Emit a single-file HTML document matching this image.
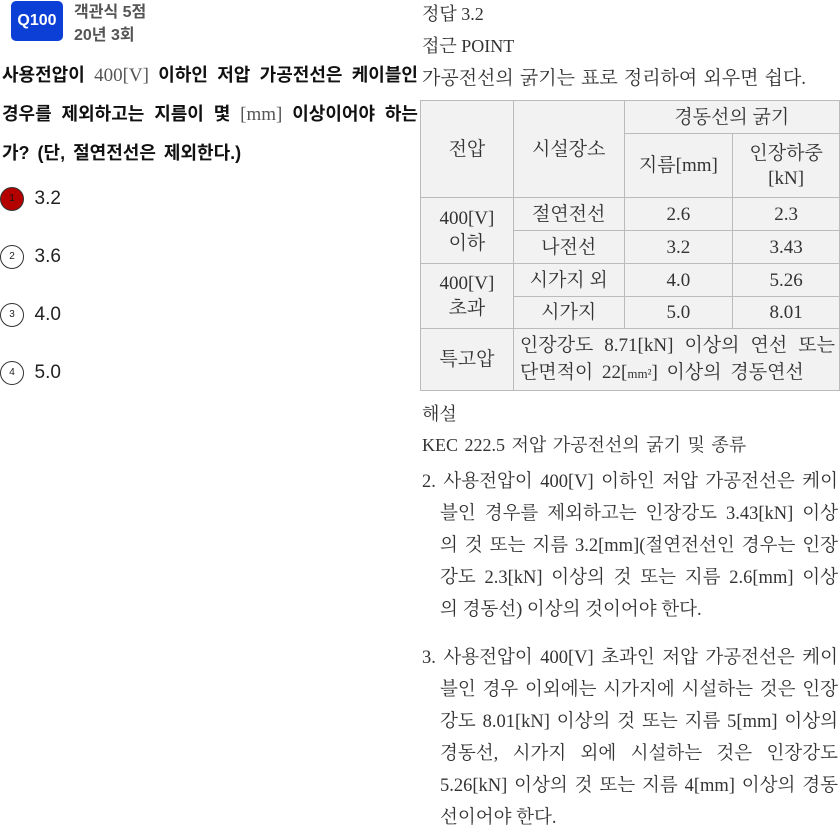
<!DOCTYPE html>
<html><head><meta charset="utf-8"><style>
body{margin:0;width:840px;height:835px;background:#fff;position:relative;overflow:hidden;font-family:"Liberation Sans","Noto Sans CJK KR",sans-serif;color:#222}
.a{position:absolute;white-space:nowrap}
.j{text-align:justify;text-align-last:justify;white-space:normal}
.ser{font-family:"Liberation Serif","Noto Serif CJK SC","Noto Sans CJK KR",serif;color:#333}
.q{font-weight:bold;font-size:18px;color:#111;width:416px}
.m{font-family:"Liberation Serif",serif;font-weight:normal;color:#555;font-size:19px}
.c{display:inline-block;width:24px;height:24px;border:1.5px solid #333;border-radius:50%;box-sizing:border-box;font-size:10px;text-align:center;line-height:21px;vertical-align:middle}
.opt{font-size:19px;color:#222}
table{position:absolute;left:420px;top:100px;border-collapse:collapse;background:#f2f2f2;font-family:"Liberation Serif","Noto Serif CJK SC",serif;font-size:19px;color:#333}
td{border:1px solid #bbb;text-align:center;padding:0;line-height:25px}
.r{font-size:18.5px;height:32px;line-height:32px}
</style></head><body>
<div class="a" style="left:11px;top:1px;width:52px;height:40px;background:#0b3fd6;border-radius:5px;color:#fff;font-weight:bold;font-size:16px;text-align:center;line-height:40px">Q100</div>
<div class="a" style="left:74px;top:-2px;font-size:16px;color:#555;font-weight:bold">객관식 5점</div>
<div class="a" style="left:74px;top:21px;font-size:16px;color:#555;font-weight:bold">20년 3회</div>
<div class="a q j" style="left:2px;top:61px">사용전압이 <span class="m">400[V]</span> 이하인 저압 가공전선은 케이블인</div>
<div class="a q j" style="left:2px;top:100px">경우를 제외하고는 지름이 몇 <span class="m">[mm]</span> 이상이어야 하는</div>
<div class="a q" style="left:2px;top:139px;word-spacing:3px">가? (단, 절연전선은 제외한다.)</div>
<div class="a opt" style="left:0;top:187px"><span class="c" style="background:#b50000;color:#111">1</span> &nbsp;3.2</div>
<div class="a opt" style="left:0;top:245px"><span class="c">2</span> &nbsp;3.6</div>
<div class="a opt" style="left:0;top:303px"><span class="c">3</span> &nbsp;4.0</div>
<div class="a opt" style="left:0;top:361px"><span class="c">4</span> &nbsp;5.0</div>

<div class="a ser" style="left:422px;top:0px;font-size:18px">정답 3.2</div>
<div class="a ser" style="left:422px;top:32px;font-size:18px">접근 POINT</div>
<div class="a ser j" style="left:422px;top:63px;font-size:19px;width:384px">가공전선의 굵기는 표로 정리하여 외우면 쉽다.</div>
<table>
<tr style="height:33px"><td rowspan="2" style="width:92px">전압</td><td rowspan="2" style="width:110px">시설장소</td><td colspan="2">경동선의 굵기</td></tr>
<tr style="height:64px"><td style="width:108px">지름[mm]</td><td style="width:106px">인장하중<br>[kN]</td></tr>
<tr style="height:33px"><td rowspan="2">400[V]<br>이하</td><td>절연전선</td><td>2.6</td><td>2.3</td></tr>
<tr style="height:33px"><td>나전선</td><td>3.2</td><td>3.43</td></tr>
<tr style="height:33px"><td rowspan="2">400[V]<br>초과</td><td>시가지 외</td><td>4.0</td><td>5.26</td></tr>
<tr style="height:32px"><td>시가지</td><td>5.0</td><td>8.01</td></tr>
<tr style="height:62px"><td>특고압</td><td colspan="3" style="text-align:left;padding:0 4px 0 6px;line-height:27px"><div class="j">인장강도 8.71[kN] 이상의 연선 또는</div><div style="word-spacing:4px">단면적이 22[<span style="font-size:13px">mm²</span>] 이상의 경동연선</div></td></tr>
</table>
<div class="a ser" style="left:422px;top:400px;font-size:18px">해설</div>
<div class="a ser" style="left:422px;top:431px;font-size:18px;word-spacing:2px">KEC 222.5 저압 가공전선의 굵기 및 종류</div>
<div class="a ser" style="left:422px;top:466px;width:416px">
<div class="r j">2. 사용전압이 400[V] 이하인 저압 가공전선은 케이</div>
<div class="r j" style="margin-left:18px">블인 경우를 제외하고는 인장강도 3.43[kN] 이상</div>
<div class="r j" style="margin-left:18px">의 것 또는 지름 3.2[mm](절연전선인 경우는 인장</div>
<div class="r j" style="margin-left:18px">강도 2.3[kN] 이상의 것 또는 지름 2.6[mm] 이상</div>
<div class="r" style="margin-left:18px">의 경동선) 이상의 것이어야 한다.</div>
</div>
<div class="a ser" style="left:422px;top:642px;width:416px">
<div class="r j">3. 사용전압이 400[V] 초과인 저압 가공전선은 케이</div>
<div class="r j" style="margin-left:18px">블인 경우 이외에는 시가지에 시설하는 것은 인장</div>
<div class="r j" style="margin-left:18px">강도 8.01[kN] 이상의 것 또는 지름 5[mm] 이상의</div>
<div class="r j" style="margin-left:18px">경동선, 시가지 외에 시설하는 것은 인장강도</div>
<div class="r j" style="margin-left:18px">5.26[kN] 이상의 것 또는 지름 4[mm] 이상의 경동</div>
<div class="r" style="margin-left:18px">선이어야 한다.</div>
</div>
</body></html>
